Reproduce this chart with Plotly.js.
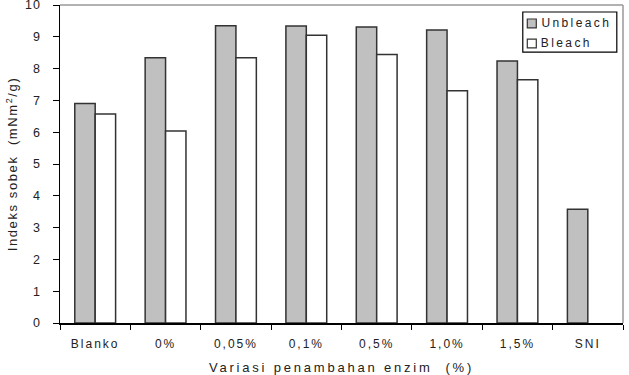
<!DOCTYPE html>
<html>
<head>
<meta charset="utf-8">
<script src="https://cdn.plot.ly/plotly-3.0.1.min.js"></script>
<style>
html,body{margin:0;padding:0;background:#fff;}
#chart{width:629px;height:375px;}
.xtick text{letter-spacing:2px;}
.ytick text{letter-spacing:1px;}
.g-xtitle text{letter-spacing:2.8px;}
.g-ytitle text{letter-spacing:1.6px;}
.annotation text{letter-spacing:2.4px;}
</style>
</head>
<body>
<div id="chart"></div>
<script>
var categories = ["Blanko","0%","0,05%","0,1%","0,5%","1,0%","1,5%","SNI"];
var unbleach = [6.9, 8.34, 9.35, 9.34, 9.31, 9.21, 8.24, 3.58];
var bleach = [6.57, 6.04, 8.34, 9.05, 8.44, 7.3, 7.65, null];
var seriesNames = ["Unbleach", "Bleach"];
var yTicks = [0,1,2,3,4,5,6,7,8,9,10];

var fontFam = "Liberation Sans, Arial, sans-serif";
var fillU = "#c0c0c0", fillB = "#ffffff", edge = "#333333";
var traces = [
  {type:"bar", name:seriesNames[0], x:categories, y:unbleach,
   marker:{color:fillU, line:{color:edge, width:1.5}}},
  {type:"bar", name:seriesNames[1], x:categories, y:bleach,
   marker:{color:fillB, line:{color:edge, width:1.5}}}
];
var layout = {
  width:629, height:375,
  margin:{l:60, r:6, t:5, b:52},
  paper_bgcolor:"#fff", plot_bgcolor:"#fff",
  barmode:"group", bargap:0.42, bargroupgap:0,
  font:{family:fontFam, size:12, color:"#222"},
  showlegend:false,
  xaxis:{type:"category", showline:true, linecolor:"#000", linewidth:1.5,
    ticks:"outside", tickson:"boundaries", ticklen:5, tickcolor:"#000",
    ticklabelstandoff:9,
    showgrid:false, zeroline:false,
    tickfont:{family:fontFam, size:12, color:"#222"},
    title:{text:"Variasi penambahan enzim  (%)", font:{family:fontFam, size:13, color:"#222"}, standoff:13}},
  yaxis:{range:[0,10], tickvals:yTicks, ticktext:yTicks.map(String),
    showline:true, linecolor:"#000", linewidth:1.5,
    ticks:"outside", ticklen:6, tickcolor:"#000",
    ticklabelstandoff:9, ticklabeloverflow:"allow",
    showgrid:false, zeroline:false,
    tickfont:{family:fontFam, size:12.5, color:"#222"},
    title:{text:"Indeks sobek  (mNm<sup>2</sup>/g)", font:{family:fontFam, size:13, color:"#222"}, standoff:4}},
  shapes:[
    {type:"line", xref:"paper", yref:"paper", x0:0, x1:1, y0:1, y1:1, line:{color:"#999", width:1.5}},
    {type:"line", xref:"paper", yref:"paper", x0:1, x1:1, y0:0, y1:1, line:{color:"#999", width:1.5}},
    // legend box
    {type:"rect", xref:"paper", yref:"paper", x0:0.822, x1:0.989, y0:0.852, y1:0.978,
      line:{color:"#000", width:1.2}, fillcolor:"#fff", layer:"above"},
    {type:"rect", xref:"paper", yref:"paper", x0:0.830, x1:0.846, y0:0.928, y1:0.956,
      line:{color:edge, width:1.2}, fillcolor:fillU, layer:"above"},
    {type:"rect", xref:"paper", yref:"paper", x0:0.830, x1:0.846, y0:0.865, y1:0.893,
      line:{color:edge, width:1.2}, fillcolor:fillB, layer:"above"}
  ],
  annotations:[
    {xref:"paper", yref:"paper", x:0.851, xshift:10, y:0.942, xanchor:"left", yanchor:"middle",
      text:seriesNames[0], showarrow:false, font:{family:fontFam, size:12, color:"#222"}},
    {xref:"paper", yref:"paper", x:0.851, xshift:7, y:0.879, xanchor:"left", yanchor:"middle",
      text:seriesNames[1], showarrow:false, font:{family:fontFam, size:12, color:"#222"}}
  ]
};
Plotly.newPlot("chart", traces, layout, {displayModeBar:false, staticPlot:true});
</script>
</body>
</html>
